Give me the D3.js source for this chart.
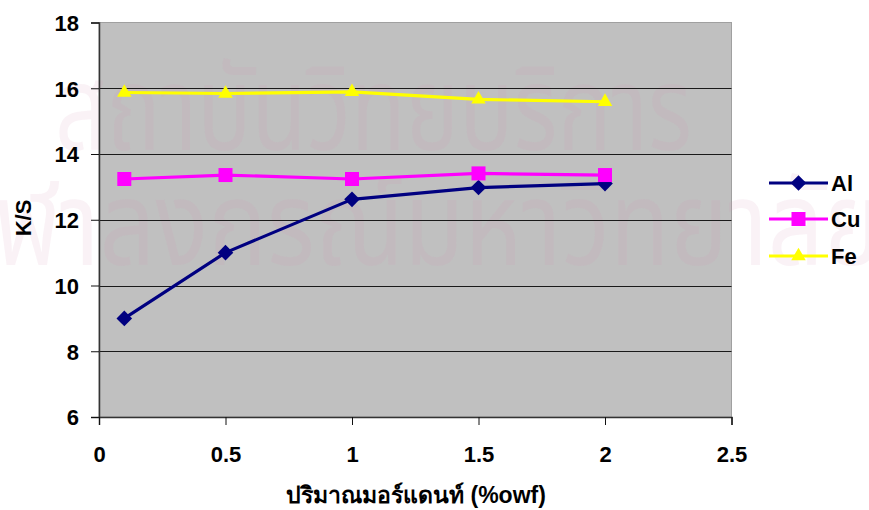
<!DOCTYPE html>
<html>
<head>
<meta charset="utf-8">
<script src="https://cdn.jsdelivr.net/npm/d3@7"></script>
<style>
  html, body { margin: 0; padding: 0; background: #ffffff; }
  svg { display: block; }
  text { font-family: "Liberation Sans", Arial, sans-serif; font-weight: bold; fill: #000; }
</style>
</head>
<body>
<svg id="chart" width="869" height="510"></svg>
<script>
// Mordant amount (%owf) on the x axis, colour strength K/S on the y axis
const mordantAmounts = [0.1, 0.5, 1, 1.5, 2];
const alValues = [9.0, 11.0, 12.62, 12.98, 13.1];
const cuValues = [13.24, 13.36, 13.24, 13.41, 13.36];
const feValues = [15.87, 15.84, 15.89, 15.66, 15.59];
const seriesNames = ["Al", "Cu", "Fe"];
const xTickValues = [0, 0.5, 1, 1.5, 2, 2.5];
const yTickValues = [6, 8, 10, 12, 14, 16, 18];
const xTitle = "ปริมาณมอร์แดนท์ (%owf)";
const yTitle = "K/S";
const watermarkLines = ["สถาบันวิทยบริการ", "จุฬาลงกรณ์มหาวิทยาลัย"];

const seriesStyle = {
  Al: { color: "#000080", symbol: d3.symbolDiamond2, size: 155 },
  Cu: { color: "#ff00ff", symbol: d3.symbolSquare2, size: 250 },
  Fe: { color: "#ffff00", symbol: d3.symbolTriangle2, size: 150 }
};
const series = [
  { name: seriesNames[0], values: alValues },
  { name: seriesNames[1], values: cuValues },
  { name: seriesNames[2], values: feValues }
].map(s => ({ ...s, points: s.values.map((v, i) => ({ x: mordantAmounts[i], y: v })) }));

const svg = d3.select("#chart");
const plot = { left: 99, right: 731.5, top: 22.5, bottom: 417 };

const x = d3.scaleLinear().domain([0, 2.5]).range([plot.left, plot.right]);
const y = d3.scaleLinear().domain([6, 18]).range([plot.bottom, plot.top]);

// plot area
svg.append("rect")
  .attr("x", plot.left).attr("y", plot.top)
  .attr("width", plot.right - plot.left).attr("height", plot.bottom - plot.top)
  .attr("fill", "#c0c0c0").attr("stroke", "#a0a0a0").attr("stroke-width", 1);

// faint institutional watermark
const wm = svg.append("g").attr("fill", "rgb(215,150,185)").attr("fill-opacity", 0.12);
wm.append("text")
  .attr("x", 55).attr("y", 150)
  .attr("textLength", 637).attr("lengthAdjust", "spacingAndGlyphs")
  .style("font-family", "'Noto Sans Thai', 'Noto Looped Thai', sans-serif")
  .style("font-weight", "normal").style("font-size", "118px").style("fill", "inherit")
  .text(watermarkLines[0]);
wm.append("text")
  .attr("x", -58).attr("y", 265)
  .attr("textLength", 940).attr("lengthAdjust", "spacingAndGlyphs")
  .style("font-family", "'Noto Sans Thai', 'Noto Looped Thai', sans-serif")
  .style("font-weight", "normal").style("font-size", "118px").style("fill", "inherit")
  .text(watermarkLines[1]);

// horizontal gridlines
svg.append("g")
  .selectAll("line")
  .data(yTickValues.filter(v => v > 6 && v < 18))
  .join("line")
  .attr("x1", plot.left).attr("x2", plot.right)
  .attr("y1", d => Math.round(y(d)) + 0.5).attr("y2", d => Math.round(y(d)) + 0.5)
  .attr("stroke", "#1a1a1a").attr("stroke-width", 1);

// axes
const yAxis = svg.append("g")
  .attr("transform", `translate(${plot.left},0)`)
  .call(d3.axisLeft(y).tickValues(yTickValues).tickFormat(d3.format("d")).tickSizeOuter(0).tickSize(8).tickPadding(12));
const xAxis = svg.append("g")
  .attr("transform", `translate(0,${plot.bottom})`)
  .call(d3.axisBottom(x).tickValues(xTickValues).tickFormat(d => String(d)).tickSizeOuter(0).tickSize(8).tickPadding(21));

[yAxis, xAxis].forEach(a => {
  a.select(".domain").attr("stroke", "#333").attr("stroke-width", 1.5);
  a.selectAll(".tick line").attr("stroke", "#111");
  a.selectAll(".tick text")
    .attr("fill", "#000")
    .style("font-family", "'Liberation Sans', Arial, sans-serif")
    .style("font-weight", "bold").style("font-size", "22px");
});
yAxis.selectAll(".tick text").attr("dy", "0.36em");
xAxis.selectAll(".tick text").attr("dy", "0.71em");

// series lines and markers
const line = d3.line().x(d => x(d.x)).y(d => y(d.y));
const sg = svg.append("g").selectAll("g").data(series).join("g");
sg.append("path")
  .attr("d", d => line(d.points))
  .attr("fill", "none")
  .attr("stroke", d => seriesStyle[d.name].color)
  .attr("stroke-width", 3.2)
  .attr("stroke-linejoin", "round");
sg.selectAll("path.marker")
  .data(d => d.points.map(p => ({ ...p, name: d.name })))
  .join("path")
  .attr("class", "marker")
  .attr("transform", d => `translate(${x(d.x)},${y(d.y)})`)
  .attr("d", d => d3.symbol(seriesStyle[d.name].symbol, seriesStyle[d.name].size)())
  .attr("fill", d => seriesStyle[d.name].color);

// legend
const legendY = [183, 219, 256];
const lg = svg.append("g").selectAll("g").data(series).join("g")
  .attr("transform", (d, i) => `translate(769,${legendY[i]})`);
lg.append("line")
  .attr("x1", 0).attr("x2", 59).attr("y1", 0).attr("y2", 0)
  .attr("stroke", d => seriesStyle[d.name].color).attr("stroke-width", 3.2);
lg.append("path")
  .attr("transform", "translate(29.5,0)")
  .attr("d", d => d3.symbol(seriesStyle[d.name].symbol, seriesStyle[d.name].size)())
  .attr("fill", d => seriesStyle[d.name].color);
lg.append("text")
  .attr("x", 62).attr("y", 0).attr("dy", "0.36em")
  .style("font-size", "22px")
  .text(d => d.name);

// axis titles
svg.append("text")
  .attr("transform", "translate(31,218) rotate(-90)")
  .attr("text-anchor", "middle")
  .style("font-size", "22px")
  .text(yTitle);
svg.append("text")
  .attr("x", 416).attr("y", 503)
  .attr("text-anchor", "middle")
  .style("font-size", "23px")
  .text(xTitle);
</script>
</body>
</html>
